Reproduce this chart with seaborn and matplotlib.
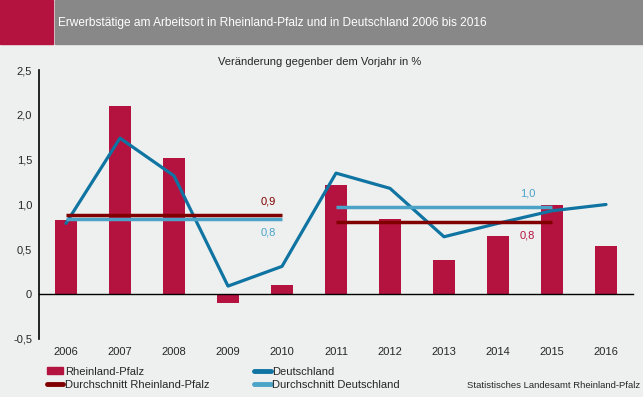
import numpy as np
import pandas as pd
import matplotlib
matplotlib.use('Agg')
import matplotlib.pyplot as plt
import seaborn as sns
from matplotlib.patches import Rectangle, Patch
from matplotlib.lines import Line2D
from matplotlib.ticker import FuncFormatter

sns.set_style("white")
plt.rcParams['font.family'] = ['Liberation Sans', 'DejaVu Sans']
plt.rcParams['font.size'] = 8

# Daten
jahre = ['2006', '2007', '2008', '2009', '2010', '2011', '2012', '2013', '2014', '2015', '2016']
rheinland_pfalz = [0.83, 2.10, 1.52, -0.10, 0.10, 1.22, 0.84, 0.38, 0.65, 0.99, 0.54]
deutschland = [0.79, 1.74, 1.32, 0.09, 0.31, 1.35, 1.18, 0.64, 0.79, 0.93, 1.00]

# Durchschnitte je Zeitraum (erstes Jahr, letztes Jahr)
zeitraeume = [('2006', '2010'), ('2011', '2015')]
avg_rp = [0.88, 0.81]
avg_de = [0.84, 0.97]
avg_rp_label = ['0,9', '0,8']
avg_de_label = ['0,8', '1,0']

bg = '#eef0ef'
rot = '#b5133f'
blau = '#0f74a2'
dunkelrot = '#800000'
hellblau = '#4ba3c8'

df = pd.DataFrame({'jahr': jahre, 'rp': rheinland_pfalz, 'de': deutschland})
df['pos'] = np.arange(len(df))

fig = plt.figure(figsize=(6.43, 3.97), dpi=100, facecolor=bg)
ax = fig.add_axes([39/643, 1-339/397, 594/643, 269/397])
ax.set_facecolor(bg)

sns.barplot(data=df, x='jahr', y='rp', color=rot, width=0.4, saturation=1, linewidth=0, ax=ax)
sns.lineplot(data=df, x='pos', y='de', color=blau, linewidth=2.3, ax=ax)

pos = {j: i for i, j in enumerate(jahre)}
for (a, b), v in zip(zeitraeume, avg_rp):
    ax.hlines(v, pos[a], pos[b], color=dunkelrot, linewidth=2.5, zorder=4)
for (a, b), v in zip(zeitraeume, avg_de):
    ax.hlines(v, pos[a], pos[b], color=hellblau, linewidth=2.5, zorder=3)

# Beschriftungen der Durchschnitte
ax.text(pos['2010'] - 0.25, avg_rp[0] + 0.1, avg_rp_label[0], color=dunkelrot, ha='center', va='bottom', fontsize=8)
ax.text(pos['2010'] - 0.25, avg_de[0] - 0.1, avg_de_label[0], color=hellblau, ha='center', va='top', fontsize=8)
ax.text(pos['2015'] - 0.45, avg_de[1] + 0.1, avg_de_label[1], color=hellblau, ha='center', va='bottom', fontsize=8)
ax.text(pos['2015'] - 0.45, avg_rp[1] - 0.1, avg_rp_label[1], color=rot, ha='center', va='top', fontsize=8)

ax.set_xlim(-0.5, len(jahre) - 0.5)
ax.set_ylim(-0.5, 2.5)
ax.set_xlabel('')
ax.set_ylabel('')

# Achsen
for s in ['top', 'right']:
    ax.spines[s].set_visible(False)
ax.spines['left'].set_color('black')
ax.spines['left'].set_linewidth(1.2)
ax.spines['bottom'].set_position(('data', 0))
ax.spines['bottom'].set_color('black')
ax.spines['bottom'].set_linewidth(1.0)
ax.set_yticks(np.arange(-0.5, 2.51, 0.5))
ax.yaxis.set_major_formatter(FuncFormatter(lambda v, p: '0' if abs(v) < 1e-9 else f'{v:.1f}'.replace('.', ',')))
ax.tick_params(axis='y', direction='out', length=3, width=1, color='black', labelsize=8, pad=2)
ax.set_xticks(np.arange(0.5, len(jahre) - 0.4, 1.0))
ax.set_xticklabels([])
ax.tick_params(axis='x', direction='inout', length=6, width=1, color='black')

sec = ax.secondary_xaxis('bottom')
sec.set_xticks(np.arange(len(jahre)))
sec.set_xticklabels(jahre)
sec.tick_params(length=0, labelsize=8, pad=6)
sec.spines['bottom'].set_visible(False)

# Titelleiste
fig.patches.append(Rectangle((0, 1-44/397), 53/643, 44/397, transform=fig.transFigure, color=rot, zorder=0))
fig.patches.append(Rectangle((55/643, 1-44/397), 1, 44/397, transform=fig.transFigure, color='#888888', zorder=0))
fig.text(58/643, 1-23/397, 'Erwerbstätige am Arbeitsort in Rheinland-Pfalz und in Deutschland 2006 bis 2016',
         color='white', fontsize=8.6, va='center', ha='left')
fig.text(320/643, 1-62/397, 'Veränderung gegenber dem Vorjahr in %', fontsize=8, ha='center', va='center')

# Legende
handles = [Patch(color=rot), Line2D([], [], color=blau, linewidth=3.5),
           Line2D([], [], color=dunkelrot, linewidth=3.5), Line2D([], [], color=hellblau, linewidth=3.5)]
labels = ['Rheinland-Pfalz', 'Deutschland', 'Durchschnitt Rheinland-Pfalz', 'Durchschnitt Deutschland']
order = [0, 2, 1, 3]
fig.legend([handles[i] for i in order], [labels[i] for i in order], ncol=2, loc='upper left',
           bbox_to_anchor=(41/643, 1-361/397), frameon=False, fontsize=8, handlelength=1.5,
           handleheight=0.5, handletextpad=0.15, columnspacing=4.0, labelspacing=0.3, borderpad=0)

fig.text(640/643, 1-385/397, 'Statistisches Landesamt Rheinland-Pfalz', fontsize=6.8, ha='right', va='center')

fig.savefig('out.png', dpi=100, facecolor=bg)
